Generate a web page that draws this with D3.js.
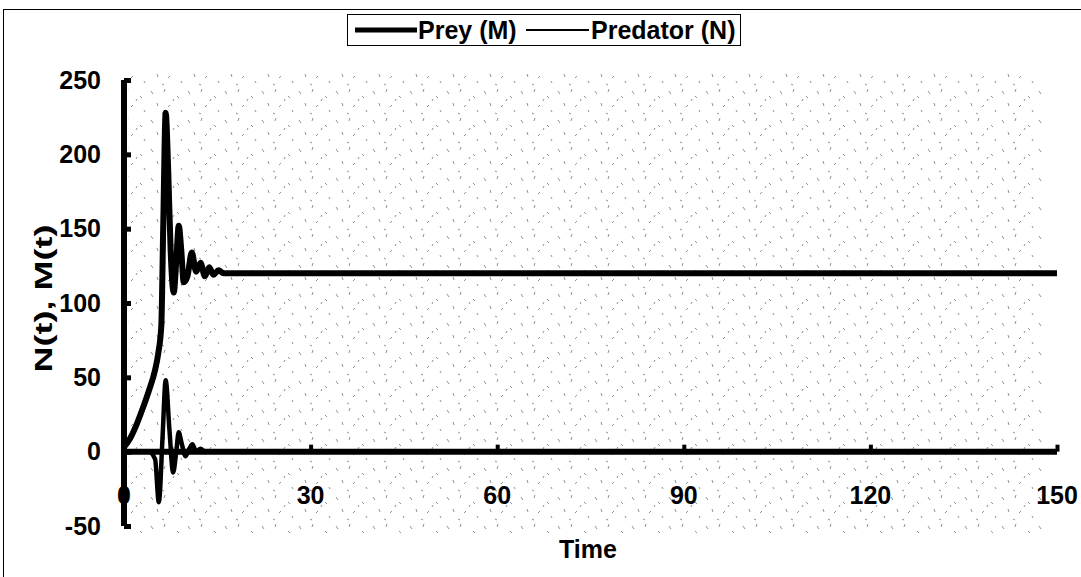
<!DOCTYPE html>
<html>
<head>
<meta charset="utf-8">
<script src="https://cdn.jsdelivr.net/npm/d3@7"></script>
<style>
  html, body { margin: 0; padding: 0; background: #fff; }
  svg { display: block; }
  text { font-family: "Liberation Sans", Arial, sans-serif; font-weight: bold; fill: #000; }
</style>
</head>
<body>
<svg id="chart" width="1081" height="577"></svg>
<script>
// ---- data ----
const preyTime = [0, 1, 2, 3, 4, 5, 5.5, 6, 6.3, 6.7, 7.1, 7.5, 8, 8.4, 8.8, 9.2, 9.6, 10.2, 10.9, 11.6, 12.3, 13, 13.7, 14.4, 15.2, 16, 18, 20, 150];
const preyValues = [3, 9, 18, 29, 41, 55, 66, 85, 150, 228, 190, 135, 107, 128, 152, 136, 114, 118, 134, 121, 127, 118, 124, 119, 122, 120, 120, 120, 120];
const predTime = [0, 4, 5, 5.6, 6.2, 6.7, 7.3, 7.9, 8.4, 8.8, 9.3, 9.9, 10.5, 11, 11.6, 12.3, 13, 14, 150];
const predValues = [0, 0, -5, -34, 10, 48, 15, -14, 0, 13, 5, -3, 2, 5, 0, 2, 0, 0, 0];
const xTicks = [0, 30, 60, 90, 120, 150];
const yTicks = [-50, 0, 50, 100, 150, 200, 250];
const seriesNames = ["Prey (M)", "Predator (N)"];

const svg = d3.select("#chart");
const FS = 25;

// scanned-paper speckle texture (fixed tile)
const defs = svg.append("defs");
const pat = defs.append("pattern").attr("id", "speckle").attr("patternUnits", "userSpaceOnUse")
  .attr("width", 37).attr("height", 29);
pat.append("path").attr("d", "M3,4l2,3M17,2l-1,3M29,9l2,2M9,16l1,3M22,18l-2,2M33,23l1,2M14,26l2,1M26,12l-1,2")
  .attr("stroke", "#222").attr("stroke-width", 1).attr("fill", "none");

// outer frame
svg.append("rect").attr("x", 3.5).attr("y", 9.5).attr("width", 1100).attr("height", 600)
  .attr("fill", "none").attr("stroke", "#000").attr("stroke-width", 1);

const x = d3.scaleLinear().domain([0, 150]).range([124, 1057]);
const y = d3.scaleLinear().domain([-50, 250]).range([526, 80]);

svg.append("rect").attr("x", x(0) + 4).attr("y", y(255)).attr("width", x(147) - x(0))
  .attr("height", y(-55) - y(255)).attr("fill", "url(#speckle)").attr("opacity", 0.5);

// y axis
const yAxis = d3.axisRight(y).tickValues(yTicks).tickSize(7).tickFormat("");
const gy = svg.append("g").attr("transform", `translate(${x(0)},0)`).call(yAxis);
gy.select(".domain").attr("stroke", "#000").attr("stroke-width", 6).attr("d", `M0,${y(-50)}V${y(250)}`);
gy.selectAll(".tick line").attr("stroke", "#000").attr("stroke-width", 5);
// y tick labels (left side)
svg.append("g").selectAll("text").data(yTicks).join("text")
  .attr("x", 101).attr("y", d => y(d)).attr("dy", "0.35em")
  .attr("text-anchor", "end").attr("font-size", FS).text(d => d);

// x axis at y = 0
const xAxis = d3.axisTop(x).tickValues(xTicks.filter(d => d > 0)).tickSize(7).tickFormat("");
const gx = svg.append("g").attr("transform", `translate(0,${y(0)})`).call(xAxis);
gx.select(".domain").attr("stroke", "#000").attr("stroke-width", 6).attr("d", `M${x(0)},0H${x(150)}`);
gx.selectAll(".tick line").attr("stroke", "#000").attr("stroke-width", 4);
svg.append("g").selectAll("text").data(xTicks).join("text")
  .attr("x", d => x(d)).attr("y", y(-29)).attr("dy", "0.35em")
  .attr("text-anchor", "middle").attr("font-size", FS).text(d => d);

// lines
const line = d3.line().x(d => x(d[0])).y(d => y(d[1])).curve(d3.curveMonotoneX);
svg.append("path").datum(predTime.map((t, i) => [t, predValues[i]]))
  .attr("d", line).attr("fill", "none").attr("stroke", "#000").attr("stroke-width", 4.5).attr("stroke-linejoin", "round");
svg.append("path").datum(preyTime.map((t, i) => [t, preyValues[i]]))
  .attr("d", line).attr("fill", "none").attr("stroke", "#000").attr("stroke-width", 6).attr("stroke-linejoin", "round");

// axis titles
svg.append("text").attr("transform", `translate(44,${y(103)}) rotate(-90) scale(1.5,1)`)
  .attr("text-anchor", "middle").attr("dy", "0.35em").attr("font-size", 24).text("N(t), M(t)");
svg.append("text").attr("x", 588).attr("y", 549).attr("dy", "0.35em")
  .attr("text-anchor", "middle").attr("font-size", FS).text("Time");

// legend
const lg = svg.append("g");
lg.append("rect").attr("x", 347.5).attr("y", 14.5).attr("width", 393).attr("height", 31)
  .attr("fill", "#fff").attr("stroke", "#000").attr("stroke-width", 1);
lg.append("line").attr("x1", 355).attr("x2", 417).attr("y1", 30).attr("y2", 30).attr("stroke", "#000").attr("stroke-width", 5);
lg.append("text").attr("x", 418).attr("y", 30).attr("dy", "0.35em").attr("font-size", FS).text(seriesNames[0]);
lg.append("line").attr("x1", 526).attr("x2", 589).attr("y1", 30).attr("y2", 30).attr("stroke", "#000").attr("stroke-width", 2);
lg.append("text").attr("x", 591).attr("y", 30).attr("dy", "0.35em").attr("font-size", FS).text(seriesNames[1]);
</script>
</body>
</html>
